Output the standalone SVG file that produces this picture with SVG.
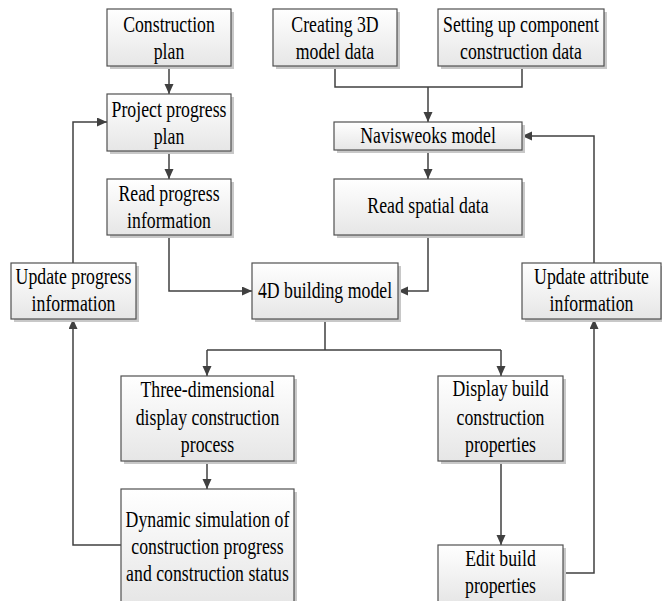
<svg xmlns="http://www.w3.org/2000/svg" width="662" height="601" viewBox="0 0 662 601">
<defs>
<linearGradient id="g" x1="0" y1="0" x2="0" y2="1">
<stop offset="0" stop-color="#ffffff"/>
<stop offset="1" stop-color="#e6e6e6"/>
</linearGradient>
<marker id="a" markerUnits="userSpaceOnUse" markerWidth="10" markerHeight="10" refX="10" refY="4.5" orient="auto">
<path d="M0,0 L10,4.5 L0,9 z" fill="#404040"/>
</marker>
<style>
.box{fill:url(#g);stroke:#505050;stroke-width:1.2}
.sh{fill:#c8c8c8}
.t{font-family:"Liberation Serif","Times New Roman",serif;font-size:24px;fill:#000;text-anchor:middle}
.c{fill:none;stroke:#404040;stroke-width:1.5}
</style>
</defs>
<rect width="662" height="601" fill="#fff"/>
<g id="connectors">
<path class="c" d="M169,66 V94" marker-end="url(#a)"/>
<path class="c" d="M169,151 V179" marker-end="url(#a)"/>
<path class="c" d="M169,235 V291 H252" marker-end="url(#a)"/>
<path class="c" d="M335,66 V87 H522 V66"/>
<path class="c" d="M428,87 V122" marker-end="url(#a)"/>
<path class="c" d="M428,150 V179" marker-end="url(#a)"/>
<path class="c" d="M428,235 V291 H398" marker-end="url(#a)"/>
<path class="c" d="M325,319 V350 M207,350 H501"/>
<path class="c" d="M207,350 V376" marker-end="url(#a)"/>
<path class="c" d="M501,350 V376" marker-end="url(#a)"/>
<path class="c" d="M207,461 V489" marker-end="url(#a)"/>
<path class="c" d="M121,545 H73 V319" marker-end="url(#a)"/>
<path class="c" d="M73,263 V122 H107" marker-end="url(#a)"/>
<path class="c" d="M501,461 V545" marker-end="url(#a)"/>
<path class="c" d="M563,573 H594 V319" marker-end="url(#a)"/>
<path class="c" d="M594,263 V136 H522" marker-end="url(#a)"/>
</g>
<g id="n1"><rect class="sh" x="110" y="12" width="124" height="57"/><rect class="box" x="107" y="9" width="124" height="57"/>
<text class="t" transform="translate(169,32) scale(0.74,1)"><tspan x="0">Construction</tspan><tspan x="0" dy="27">plan</tspan></text></g>
<g id="n2"><rect class="sh" x="110" y="97" width="124" height="57"/><rect class="box" x="107" y="94" width="124" height="57"/>
<text class="t" transform="translate(169,117) scale(0.74,1)"><tspan x="0">Project progress</tspan><tspan x="0" dy="27">plan</tspan></text></g>
<g id="n3"><rect class="sh" x="110" y="182" width="124" height="56"/><rect class="box" x="107" y="179" width="124" height="56"/>
<text class="t" transform="translate(169,201) scale(0.74,1)"><tspan x="0">Read progress</tspan><tspan x="0" dy="27">information</tspan></text></g>
<g id="n4"><rect class="sh" x="276" y="12" width="124" height="57"/><rect class="box" x="273" y="9" width="124" height="57"/>
<text class="t" transform="translate(335,32) scale(0.74,1)"><tspan x="0">Creating 3D</tspan><tspan x="0" dy="27">model data</tspan></text></g>
<g id="n5"><rect class="sh" x="441" y="12" width="166" height="57"/><rect class="box" x="438" y="9" width="166" height="57"/>
<text class="t" transform="translate(521,32) scale(0.74,1)"><tspan x="0">Setting up component</tspan><tspan x="0" dy="27">construction data</tspan></text></g>
<g id="n6"><rect class="sh" x="337" y="125" width="188" height="28"/><rect class="box" x="334" y="122" width="188" height="28"/>
<text class="t" transform="translate(428,143) scale(0.74,1)"><tspan x="0">Navisweoks model</tspan></text></g>
<g id="n7"><rect class="sh" x="337" y="182" width="188" height="56"/><rect class="box" x="334" y="179" width="188" height="56"/>
<text class="t" transform="translate(428,213) scale(0.74,1)"><tspan x="0">Read spatial data</tspan></text></g>
<g id="n8"><rect class="sh" x="255" y="266" width="146" height="56"/><rect class="box" x="252" y="263" width="146" height="56"/>
<text class="t" transform="translate(325,298) scale(0.74,1)"><tspan x="0">4D building model</tspan></text></g>
<g id="n9"><rect class="sh" x="14" y="266" width="125" height="56"/><rect class="box" x="11" y="263" width="125" height="56"/>
<text class="t" transform="translate(73.5,284) scale(0.74,1)"><tspan x="0">Update progress</tspan><tspan x="0" dy="27">information</tspan></text></g>
<g id="n10"><rect class="sh" x="525" y="266" width="139" height="56"/><rect class="box" x="522" y="263" width="139" height="56"/>
<text class="t" transform="translate(591.5,284) scale(0.74,1)"><tspan x="0">Update attribute</tspan><tspan x="0" dy="27">information</tspan></text></g>
<g id="n11"><rect class="sh" x="124" y="379" width="173" height="85"/><rect class="box" x="121" y="376" width="173" height="85"/>
<text class="t" transform="translate(207.5,397) scale(0.74,1)"><tspan x="0">Three-dimensional</tspan><tspan x="0" dy="28">display construction</tspan><tspan x="0" dy="27">process</tspan></text></g>
<g id="n12"><rect class="sh" x="441" y="379" width="125" height="85"/><rect class="box" x="438" y="376" width="125" height="85"/>
<text class="t" transform="translate(500.5,396) scale(0.74,1)"><tspan x="0">Display build</tspan><tspan x="0" dy="29">construction</tspan><tspan x="0" dy="27">properties</tspan></text></g>
<g id="n13"><rect class="sh" x="124" y="492" width="173" height="114"/><rect class="box" x="121" y="489" width="173" height="114"/>
<text class="t" transform="translate(207.5,527) scale(0.74,1)"><tspan x="0">Dynamic simulation of</tspan><tspan x="0" dy="27">construction progress</tspan><tspan x="0" dy="27">and construction status</tspan></text></g>
<g id="n14"><rect class="sh" x="441" y="548" width="125" height="58"/><rect class="box" x="438" y="545" width="125" height="58"/>
<text class="t" transform="translate(500.5,566) scale(0.74,1)"><tspan x="0">Edit build</tspan><tspan x="0" dy="27">properties</tspan></text></g>
</svg>
